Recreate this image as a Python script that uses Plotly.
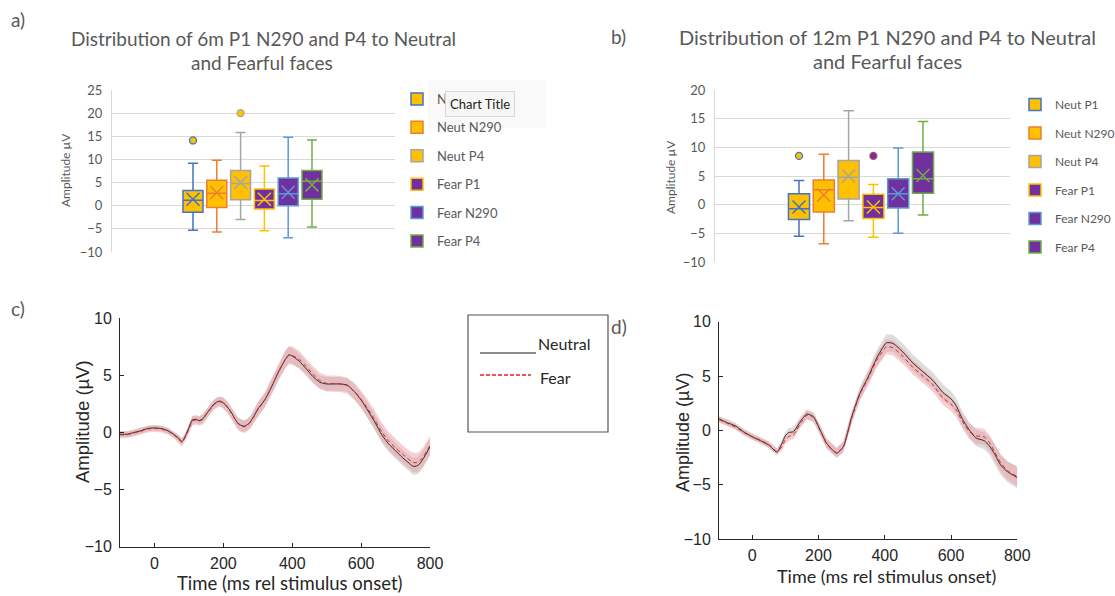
import plotly.graph_objects as go

W, H = 1115, 596

# ---------------- Box-plot data (panels a and b) ----------------
box_names = ["Neut P1", "Neut N290", "Neut P4", "Fear P1", "Fear N290", "Fear P4"]
box_pos = [1, 2, 3, 4, 5, 6]

# 6 months
a_lo = [-5.3, -5.7, -3.0, -5.4, -6.9, -4.6]
a_q1 = [-1.4, -0.4, 1.3, -0.7, 0.0, 1.4]
a_med = [1.2, 2.7, 4.8, 1.1, 2.6, 5.3]
a_q3 = [3.3, 5.5, 7.6, 3.6, 6.0, 7.6]
a_hi = [9.2, 9.8, 15.8, 8.6, 14.8, 14.2]
a_mean = [1.4, 2.8, 5.0, 1.4, 2.9, 4.5]
a_out_idx = [0, 2]
a_out_val = [14.1, 20.0]

# 12 months
b_lo = [-5.5, -6.8, -2.8, -5.7, -5.0, -1.8]
b_q1 = [-2.6, -1.3, 1.0, -2.4, -0.6, 2.0]
b_med = [-0.7, 2.6, 4.8, -0.5, 1.9, 4.5]
b_q3 = [1.9, 4.3, 7.7, 1.8, 4.5, 9.2]
b_hi = [4.2, 8.8, 16.4, 3.5, 9.9, 14.5]
b_mean = [-0.4, 1.7, 5.0, -0.4, 1.9, 5.1]
b_out_idx = [0, 3]
b_out_val = [8.5, 8.5]

box_fill = ["#FFC000", "#FFC000", "#FFC000", "#7030A0", "#7030A0", "#7030A0"]
box_line = ["#4472C4", "#ED7D31", "#A5A5A5", "#FFC000", "#5B9BD5", "#70AD47"]

# ---------------- ERP data (panels c and d) ----------------
t_c = [-100, -80, -60, -40, -20, 0, 20, 40, 60, 70, 80, 90, 100, 110, 120, 130, 140, 150,
       160, 170, 180, 190, 200, 210, 220, 230, 240, 250, 260, 270, 280, 290, 300, 320, 340,
       360, 380, 390, 400, 420, 440, 460, 480, 500, 520, 540, 560, 580, 600, 620, 640, 660,
       680, 700, 720, 740, 750, 760, 770, 780, 790, 800]
neut_c = [-0.15, -0.15, 0.0, 0.15, 0.35, 0.4, 0.35, 0.15, -0.25, -0.5, -0.8, -0.3, 0.4, 1.1,
          1.15, 1.05, 1.2, 1.6, 2.0, 2.4, 2.65, 2.75, 2.6, 2.3, 1.9, 1.4, 0.9, 0.65, 0.55, 0.7,
          1.0, 1.5, 2.05, 2.85, 4.0, 5.3, 6.4, 6.8, 6.7, 6.25, 5.6, 4.9, 4.4, 4.25, 4.25, 4.25,
          4.15, 3.6, 2.85, 1.9, 0.9, -0.2, -1.0, -1.6, -2.2, -2.7, -2.95, -2.95, -2.75, -2.3,
          -1.8, -1.25]
fear_c = [-0.2, -0.2, -0.05, 0.1, 0.3, 0.35, 0.3, 0.1, -0.3, -0.6, -0.85, -0.4, 0.3, 1.0,
          1.1, 1.0, 1.15, 1.55, 1.95, 2.35, 2.6, 2.7, 2.55, 2.25, 1.85, 1.35, 0.85, 0.6, 0.5,
          0.65, 0.95, 1.45, 2.0, 2.8, 4.0, 5.3, 6.4, 6.75, 6.75, 6.4, 5.8, 5.1, 4.55, 4.3, 4.3,
          4.25, 4.1, 3.6, 2.9, 2.05, 1.1, 0.05, -0.75, -1.35, -1.9, -2.4, -2.6, -2.65, -2.5,
          -2.15, -1.65, -1.15]
neut_c_se = [0.25, 0.25, 0.25, 0.25, 0.25, 0.25, 0.25, 0.25, 0.25, 0.3, 0.3, 0.3, 0.3, 0.35,
             0.35, 0.35, 0.4, 0.4, 0.4, 0.4, 0.4, 0.4, 0.45, 0.45, 0.45, 0.45, 0.5, 0.5, 0.5,
             0.5, 0.5, 0.55, 0.6, 0.6, 0.65, 0.65, 0.7, 0.7, 0.7, 0.65, 0.6, 0.6, 0.6, 0.6,
             0.6, 0.6, 0.6, 0.65, 0.65, 0.7, 0.7, 0.7, 0.7, 0.7, 0.7, 0.7, 0.75, 0.75, 0.75,
             0.75, 0.75, 0.75]
fear_c_se = [0.3, 0.3, 0.3, 0.3, 0.3, 0.3, 0.3, 0.3, 0.3, 0.35, 0.35, 0.35, 0.35, 0.4, 0.4,
             0.4, 0.45, 0.45, 0.45, 0.45, 0.45, 0.45, 0.5, 0.5, 0.5, 0.5, 0.55, 0.55, 0.55,
             0.55, 0.55, 0.6, 0.65, 0.65, 0.7, 0.75, 0.8, 0.8, 0.8, 0.75, 0.7, 0.7, 0.7, 0.7,
             0.7, 0.7, 0.7, 0.75, 0.75, 0.8, 0.8, 0.8, 0.8, 0.8, 0.8, 0.8, 0.85, 0.85, 0.85,
             0.85, 0.85, 0.85]

t_d = [-100, -75, -50, -25, 0, 25, 50, 75, 90, 100, 110, 125, 145, 165, 185, 205, 225, 255,
       275, 300, 325, 350, 375, 405, 425, 455, 485, 515, 545, 575, 600, 615, 635, 655, 675,
       700, 715, 730, 750, 770, 800]
neut_d = [1.05, 0.7, 0.4, -0.15, -0.58, -0.95, -1.35, -2.0, -1.2, -0.5, -0.2, -0.12, 0.8,
          1.5, 1.25, 0.05, -1.2, -2.1, -1.5, 1.2, 3.4, 4.9, 6.6, 8.05, 8.0, 7.2, 6.2, 5.4, 4.6,
          3.5, 2.9, 2.3, 1.0, 0.05, -0.7, -0.95, -1.4, -2.1, -3.2, -3.8, -4.35]
fear_d = [1.0, 0.65, 0.3, -0.2, -0.6, -0.9, -1.3, -1.95, -1.5, -0.9, -0.6, -0.4, 0.6, 1.4,
          1.2, 0.0, -1.25, -2.05, -1.55, 1.1, 3.3, 4.8, 6.4, 7.7, 7.6, 6.8, 5.8, 5.0, 4.2, 3.0,
          2.4, 1.9, 0.8, -0.1, -0.5, -0.6, -1.1, -1.9, -3.0, -3.7, -4.25]
neut_d_se = [0.3, 0.3, 0.3, 0.3, 0.3, 0.3, 0.3, 0.3, 0.35, 0.35, 0.4, 0.4, 0.45, 0.45, 0.45,
             0.45, 0.45, 0.45, 0.5, 0.55, 0.6, 0.7, 0.75, 0.8, 0.8, 0.8, 0.75, 0.75, 0.75,
             0.75, 0.7, 0.7, 0.7, 0.7, 0.75, 0.8, 0.8, 0.85, 0.9, 0.95, 1.0]
fear_d_se = [0.25, 0.25, 0.25, 0.25, 0.25, 0.25, 0.3, 0.3, 0.35, 0.35, 0.35, 0.4, 0.4, 0.4,
             0.4, 0.4, 0.45, 0.45, 0.5, 0.5, 0.55, 0.6, 0.65, 0.7, 0.7, 0.7, 0.65, 0.65, 0.65,
             0.65, 0.65, 0.65, 0.65, 0.7, 0.75, 0.75, 0.75, 0.75, 0.8, 0.85, 0.9]

EXCEL_FONT = "Lato"
MAT_FONT = "Liberation Sans"
GREY_TXT = "#595959"

fig = go.Figure()


def px_x(p):
    return p / W


def px_y(p):
    return 1 - p / H


def add_boxes(xa, ya, legend, lo, q1, med, q3, hi, mean, out_idx, out_val, bw):
    for i, name in enumerate(box_names):
        fig.add_trace(go.Box(
            x=[box_pos[i]], lowerfence=[lo[i]], q1=[q1[i]], median=[med[i]],
            q3=[q3[i]], upperfence=[hi[i]], width=bw, whiskerwidth=0.5,
            fillcolor=box_fill[i], line=dict(color=box_line[i], width=1.5),
            name=name, legend=legend, legendgroup=legend + name,
            xaxis=xa, yaxis=ya, boxpoints=False, hoverinfo="skip"))
        fig.add_trace(go.Scatter(
            x=[box_pos[i]], y=[mean[i]], mode="markers", showlegend=False,
            marker=dict(symbol="x-thin-open", size=13, color=box_line[i],
                        line=dict(color=box_line[i], width=1.5)),
            xaxis=xa, yaxis=ya, hoverinfo="skip"))
    for k, idx in enumerate(out_idx):
        fig.add_trace(go.Scatter(
            x=[box_pos[idx]], y=[out_val[k]], mode="markers", showlegend=False,
            marker=dict(symbol="circle", size=7, color=box_fill[idx],
                        line=dict(color=box_line[idx] if idx != 3 else "#C0504D", width=1.3)),
            xaxis=xa, yaxis=ya, hoverinfo="skip"))


add_boxes("x", "y", "legend", a_lo, a_q1, a_med, a_q3, a_hi, a_mean, a_out_idx, a_out_val, 0.84)
add_boxes("x2", "y2", "legend2", b_lo, b_q1, b_med, b_q3, b_hi, b_mean, b_out_idx, b_out_val, 0.85)


def add_erp(xa, ya, t, neut, neut_se, fear, fear_se):
    up = [v + s for v, s in zip(neut, neut_se)]
    dn = [v - s for v, s in zip(neut, neut_se)]
    fig.add_trace(go.Scatter(x=t + t[::-1], y=up + dn[::-1], fill="toself",
                             fillcolor="rgba(170,170,170,0.40)", line=dict(width=0),
                             mode="lines", showlegend=False, xaxis=xa, yaxis=ya,
                             hoverinfo="skip"))
    up = [v + s for v, s in zip(fear, fear_se)]
    dn = [v - s for v, s in zip(fear, fear_se)]
    fig.add_trace(go.Scatter(x=t + t[::-1], y=up + dn[::-1], fill="toself",
                             fillcolor="rgba(236,150,155,0.45)", line=dict(width=0),
                             mode="lines", showlegend=False, xaxis=xa, yaxis=ya,
                             hoverinfo="skip"))
    fig.add_trace(go.Scatter(x=t, y=neut, mode="lines", showlegend=False,
                             line=dict(color="#3a2a2a", width=1, shape="spline", smoothing=0.6),
                             xaxis=xa, yaxis=ya))
    fig.add_trace(go.Scatter(x=t, y=fear, mode="lines", showlegend=False,
                             line=dict(color="#d0262a", width=1, dash="4px,3px",
                                       shape="spline", smoothing=0.6),
                             xaxis=xa, yaxis=ya))


add_erp("x3", "y3", t_c, neut_c, neut_c_se, fear_c, fear_c_se)
add_erp("x4", "y4", t_d, neut_d, neut_d_se, fear_d, fear_d_se)

box_y = dict(showgrid=True, gridcolor="#D9D9D9", gridwidth=1, zeroline=False,
             showline=True, linecolor="#D9D9D9", linewidth=1, ticks="",
             tickfont=dict(family=EXCEL_FONT, size=13, color=GREY_TXT), dtick=5,
             ticklabelstandoff=6)
box_x = dict(showgrid=False, zeroline=False, showticklabels=False, showline=False,
             ticks="")
erp_x = dict(showgrid=False, zeroline=False, showline=True, linecolor="#262626",
             linewidth=1, ticks="inside", ticklen=4, tickcolor="#262626",
             tickfont=dict(family=MAT_FONT, size=16, color="#262626"), dtick=200,
             range=[-100, 800], tick0=0, ticklabelstandoff=2)
erp_y = dict(showgrid=False, zeroline=False, showline=True, linecolor="#262626",
             linewidth=1, ticks="inside", ticklen=4, tickcolor="#262626",
             tickfont=dict(family=MAT_FONT, size=16, color="#262626"), dtick=5,
             range=[-10, 10], ticklabelstandoff=4)

fig.update_layout(
    width=W, height=H, margin=dict(l=0, r=0, t=0, b=0, autoexpand=False),
    paper_bgcolor="white", plot_bgcolor="white",
    xaxis=dict(domain=[px_x(112), px_x(395)], range=[-2.403, 9.488], anchor="y", **box_x),
    yaxis=dict(domain=[px_y(252), px_y(90)], range=[-10, 25], anchor="x", **box_y),
    xaxis2=dict(domain=[px_x(715), px_x(1010)], range=[-2.387, 9.508], anchor="y2", **box_x),
    yaxis2=dict(domain=[px_y(262), px_y(90)], range=[-10, 20], anchor="x2", **box_y),
    xaxis3=dict(domain=[px_x(120), px_x(430)], anchor="y3", **erp_x),
    yaxis3=dict(domain=[px_y(546.7), px_y(318.3)], anchor="x3", **erp_y),
    xaxis4=dict(domain=[px_x(719), px_x(1017.3)], anchor="y4", **erp_x),
    yaxis4=dict(domain=[px_y(539), px_y(321.7)], anchor="x4", **erp_y),
    legend=dict(x=px_x(397), y=px_y(84), xanchor="left", yanchor="top",
                font=dict(family=EXCEL_FONT, size=13, color=GREY_TXT),
                tracegroupgap=8.5, bgcolor="rgba(0,0,0,0)", itemclick=False),
    legend2=dict(x=px_x(1015), y=px_y(90), xanchor="left", yanchor="top",
                 font=dict(family=EXCEL_FONT, size=12, color=GREY_TXT),
                 tracegroupgap=9.5, bgcolor="rgba(0,0,0,0)", itemclick=False),
    showlegend=True,
)

ann = []
for txt, x, y in [("a)", 18, 19), ("b)", 618, 36), ("c)", 18, 308), ("d)", 619, 326)]:
    ann.append(dict(text=txt, x=px_x(x), y=px_y(y), xref="paper", yref="paper",
                    showarrow=False, xanchor="center", yanchor="middle",
                    font=dict(family=EXCEL_FONT, size=19, color=GREY_TXT)))
for txt, x, y, fs in [("Distribution of 6m P1 N290 and P4 to Neutral", 263, 39, 19),
                      ("and Fearful faces", 262, 62, 19),
                      ("Distribution of 12m P1 N290 and P4 to Neutral", 887, 37, 20),
                      ("and Fearful faces", 887, 61, 20)]:
    ann.append(dict(text=txt, x=px_x(x), y=px_y(y), xref="paper", yref="paper",
                    showarrow=False, xanchor="center", yanchor="middle",
                    font=dict(family=EXCEL_FONT, size=fs, color=GREY_TXT)))
ann.append(dict(text="Amplitude µV", x=px_x(65), y=px_y(170), xref="paper", yref="paper",
                showarrow=False, textangle=-90, xanchor="center", yanchor="middle",
                font=dict(family=EXCEL_FONT, size=12, color=GREY_TXT)))
ann.append(dict(text="Amplitude µV", x=px_x(670), y=px_y(177), xref="paper", yref="paper",
                showarrow=False, textangle=-90, xanchor="center", yanchor="middle",
                font=dict(family=EXCEL_FONT, size=12, color=GREY_TXT)))
for x, y, fs in [(82, 422, 18.5), (683, 433, 18)]:
    ann.append(dict(text="Amplitude (µV)", x=px_x(x), y=px_y(y), xref="paper", yref="paper",
                    showarrow=False, textangle=-90, xanchor="center", yanchor="middle",
                    font=dict(family=MAT_FONT, size=fs, color="#262626")))
for x, y, fs in [(290, 583, 18.5), (886, 576, 18)]:
    ann.append(dict(text="Time (ms rel stimulus onset)", x=px_x(x), y=px_y(y),
                    xref="paper", yref="paper", showarrow=False,
                    xanchor="center", yanchor="middle",
                    font=dict(family=EXCEL_FONT, size=fs, color="#262626")))
ann.append(dict(text="Neutral", x=px_x(536), y=px_y(343), xref="paper", yref="paper",
                showarrow=False, xanchor="left", yanchor="middle",
                font=dict(family=EXCEL_FONT, size=16, color="#262626")))
ann.append(dict(text="Fear", x=px_x(538), y=px_y(377), xref="paper", yref="paper",
                showarrow=False, xanchor="left", yanchor="middle",
                font=dict(family=EXCEL_FONT, size=16, color="#262626")))
ann.append(dict(text="Chart Title", x=px_x(480), y=px_y(104), xref="paper", yref="paper",
                showarrow=False, xanchor="center", yanchor="middle",
                bgcolor="#F6F6F6", bordercolor="#D8D8D8", borderwidth=1, borderpad=4,
                font=dict(family=EXCEL_FONT, size=13, color="#222222")))
fig.update_layout(annotations=ann)

shapes = [
    dict(type="rect", xref="paper", yref="paper", x0=px_x(428), x1=px_x(546),
         y0=px_y(128), y1=px_y(80), fillcolor="rgba(200,200,200,0.10)",
         line=dict(width=0), layer="above"),
    dict(type="rect", xref="paper", yref="paper", x0=px_x(468), x1=px_x(608),
         y0=px_y(432), y1=px_y(315), line=dict(color="#555555", width=1.2),
         fillcolor="rgba(0,0,0,0)"),
    dict(type="line", xref="paper", yref="paper", x0=px_x(480), x1=px_x(536),
         y0=px_y(353), y1=px_y(353), line=dict(color="#666666", width=1.5)),
    dict(type="line", xref="paper", yref="paper", x0=px_x(480), x1=px_x(531),
         y0=px_y(375), y1=px_y(375), line=dict(color="#e02020", width=1.5, dash="4px,2px")),
]
fig.update_layout(shapes=shapes)

fig.write_html("out.html")
